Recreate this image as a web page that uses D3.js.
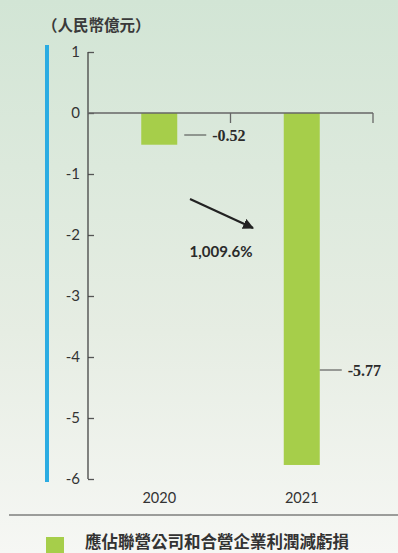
<!DOCTYPE html>
<html>
<head>
<meta charset="utf-8">
<script src="https://cdn.jsdelivr.net/npm/d3@7"></script>
<style>
  body { margin: 0; padding: 0; background: #fff; }
  svg { display: block; }
</style>
</head>
<body>
<div id="chart"></div>
<script>
// chart data
var years = ['2020', '2021'];
var values = [-0.52, -5.77];
var valueLabels = ['-0.52', '-5.77'];
var yTicks = [1, 0, -1, -2, -3, -4, -5, -6];
var unitTitle = '（人民幣億元）';
var changeLabel = '1,009.6%';
var legendLabel = '應佔聯營公司和合營企業利潤減虧損';

var width = 398, height = 553;
var barColor = '#a6ce4a';
var serif = '"Times New Roman", "Liberation Serif", "DejaVu Serif", serif';
var cjk = '"Noto Sans CJK TC", "Noto Sans CJK SC", sans-serif';
var sans = '"Lato", "Open Sans", sans-serif';

var svg = d3.select('#chart').append('svg')
	.attr('width', width)
	.attr('height', height);

// background gradient
var grad = svg.append('defs').append('linearGradient')
	.attr('id', 'bg')
	.attr('x1', 0).attr('y1', 0).attr('x2', 0).attr('y2', 1);
grad.append('stop').attr('offset', '0%').attr('stop-color', '#d2e5d5');
grad.append('stop').attr('offset', '60%').attr('stop-color', '#e6ede3');
grad.append('stop').attr('offset', '100%').attr('stop-color', '#f6f7f4');
svg.append('rect')
	.attr('width', width).attr('height', height)
	.attr('fill', 'url(#bg)');

var y = d3.scaleLinear().domain([1, -6]).range([52, 479]);
var x = d3.scaleBand().domain(years).range([88, 373]).paddingInner(0).paddingOuter(0);
var barWidth = 36;

// title
svg.append('text')
	.attr('x', 42).attr('y', 31)
	.attr('font-family', cjk)
	.attr('font-weight', 'bold')
	.attr('font-size', 15.5)
	.attr('fill', '#3a3a3a')
	.text(unitTitle);

// blue accent bar
svg.append('rect')
	.attr('x', 45).attr('y', 45)
	.attr('width', 4).attr('height', 437)
	.attr('fill', '#2bace2');

// y axis
var yAxis = d3.axisRight(y)
	.tickValues(yTicks)
	.tickSize(6)
	.tickFormat(d3.format('d'));
var gy = svg.append('g')
	.attr('transform', 'translate(88,0)')
	.call(yAxis);
gy.attr('font-family', null).attr('font-size', null);
gy.select('.domain').remove();
gy.selectAll('.tick line').attr('stroke', '#555').attr('stroke-width', 1.3);
gy.selectAll('.tick text')
	.attr('x', -8)
	.attr('text-anchor', 'end')
	.style('font-family', sans)
	.style('font-size', '15px')
	.attr('fill', '#333')
	.text(d => d < 0 ? '-' + Math.abs(d) : d);
svg.append('line')
	.attr('x1', 88).attr('x2', 88)
	.attr('y1', y(1)).attr('y2', y(-6))
	.attr('stroke', '#444').attr('stroke-width', 1.3);

// bars
svg.selectAll('rect.bar')
	.data(values)
	.enter().append('rect')
	.attr('class', 'bar')
	.attr('x', (d, i) => x(years[i]) + x.bandwidth() / 2 - barWidth / 2)
	.attr('y', y(0))
	.attr('width', barWidth)
	.attr('height', d => y(d) - y(0))
	.attr('fill', barColor);

// zero line with category ticks
svg.append('line')
	.attr('x1', 88).attr('x2', 373)
	.attr('y1', y(0)).attr('y2', y(0))
	.attr('stroke', '#666').attr('stroke-width', 1.5);
years.forEach(function(yr){
	var xe = x(yr) + x.bandwidth();
	svg.append('line')
		.attr('x1', xe).attr('x2', xe)
		.attr('y1', y(0)).attr('y2', y(0) + 10)
		.attr('stroke', '#666').attr('stroke-width', 1.3);
});

// value labels with leader lines
var labelY = [y(0) + 22, 370];
values.forEach(function(v, i){
	var bx = x(years[i]) + x.bandwidth() / 2 + barWidth / 2;
	var lx1 = i == 0 ? bx + 7 : bx;
	svg.append('line')
		.attr('x1', lx1).attr('x2', lx1 + 22)
		.attr('y1', labelY[i]).attr('y2', labelY[i])
		.attr('stroke', '#444').attr('stroke-width', 1);
	svg.append('text')
		.attr('x', lx1 + 28).attr('y', labelY[i] + 5.5)
		.style('font-family', serif)
		.style('font-weight', 'bold')
		.style('font-size', '16px')
		.attr('fill', '#2a2a2a')
		.text(valueLabels[i]);
});

// change arrow
svg.append('defs').append('marker')
	.attr('id', 'arrow')
	.attr('viewBox', '0 0 10 10')
	.attr('refX', 9).attr('refY', 5)
	.attr('markerWidth', 5).attr('markerHeight', 5)
	.attr('markerUnits', 'strokeWidth')
	.attr('orient', 'auto')
	.append('path')
	.attr('d', 'M0,0 L10,5 L0,10 Z')
	.attr('fill', '#222');
svg.append('line')
	.attr('x1', 190).attr('y1', 199)
	.attr('x2', 253).attr('y2', 228)
	.attr('stroke', '#222').attr('stroke-width', 2.2)
	.attr('marker-end', 'url(#arrow)');
svg.append('text')
	.attr('x', 221).attr('y', 257)
	.attr('text-anchor', 'middle')
	.style('font-family', sans)
	.style('font-weight', 'bold')
	.style('font-size', '15px')
	.attr('fill', '#2a2a2a')
	.text(changeLabel);

// x labels
svg.selectAll('text.xlab')
	.data(years)
	.enter().append('text')
	.attr('class', 'xlab')
	.attr('x', d => x(d) + x.bandwidth() / 2)
	.attr('y', 503)
	.attr('text-anchor', 'middle')
	.style('font-family', sans)
	.style('font-size', '14.5px')
	.attr('fill', '#333')
	.text(d => d);

// separator
svg.append('line')
	.attr('x1', 9).attr('x2', width)
	.attr('y1', 515).attr('y2', 515)
	.attr('stroke', '#444').attr('stroke-width', 1.2);

// legend
svg.append('rect')
	.attr('x', 46).attr('y', 537)
	.attr('width', 18).attr('height', 16)
	.attr('fill', barColor);
svg.append('text')
	.attr('x', 85).attr('y', 548)
	.style('font-family', cjk)
	.style('font-weight', 'bold')
	.style('font-size', '16.5px')
	.attr('fill', '#333')
	.text(legendLabel);
</script>
</body>
</html>
